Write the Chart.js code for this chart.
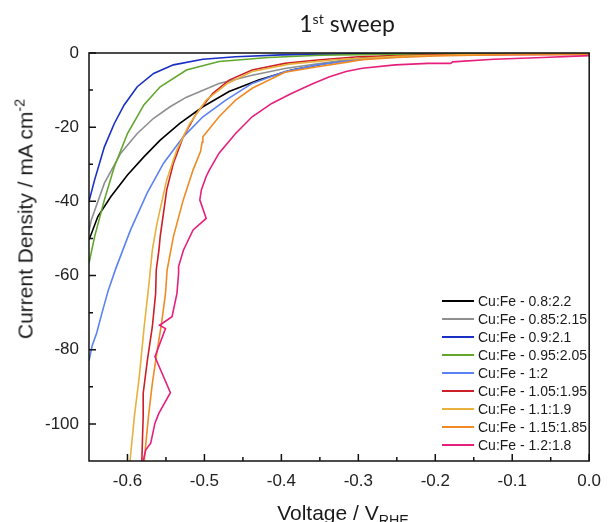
<!DOCTYPE html>
<html>
<head>
<meta charset="utf-8">
<script src="https://cdn.jsdelivr.net/npm/chart.js@4.4.1/dist/chart.umd.min.js"></script>
<style>
  html, body { margin: 0; padding: 0; background: #fff; overflow: hidden; }
  #wrap { position: relative; width: 611px; height: 522px; }
  .txt { position: absolute; white-space: nowrap; color: #1a1a1a; }
  #title { left: 347px; top: 12px; transform: translateX(-50%); font: 23px Lato, sans-serif; line-height: 23px; }
  #title sup { font-size: 0.62em; vertical-align: 8px; line-height: 0; }
  #xtitle { left: 343px; top: 502px; transform: translateX(-50%); font: 21px "Liberation Sans", Arial, sans-serif; line-height: 21px; }
  #xtitle sub { font-size: 0.68em; vertical-align: -5px; line-height: 0; }
  #ytitle { left: 25px; top: 219px; transform: translate(-50%, -50%) rotate(-90deg); font: 21px "Liberation Sans", Arial, sans-serif; line-height: 21px; }
  #ytitle sup { font-size: 0.68em; vertical-align: 8px; line-height: 0; }
  #legend { position: absolute; left: 442px; top: 292px; font: 14px "Liberation Sans", Arial, sans-serif; color: #1a1a1a; }
  #legend .row { height: 18px; line-height: 18px; display: flex; align-items: center; white-space: nowrap; }
  #legend .swatch { width: 32px; height: 2px; margin-right: 4px; }
</style>
</head>
<body>
<div id="wrap">
  <canvas id="ivChart"></canvas>
  <div id="title" class="txt">1<sup>st</sup> sweep</div>
  <div id="xtitle" class="txt">Voltage / V<sub>RHE</sub></div>
  <div id="ytitle" class="txt">Current Density / mA cm<sup>-2</sup></div>
  <div id="legend"></div>
</div>
<script>
// series labels
const labels = [
  'Cu:Fe - 0.8:2.2', 'Cu:Fe - 0.85:2.15', 'Cu:Fe - 0.9:2.1', 'Cu:Fe - 0.95:2.05', 'Cu:Fe - 1:2',
  'Cu:Fe - 1.05:1.95', 'Cu:Fe - 1.1:1.9', 'Cu:Fe - 1.15:1.85', 'Cu:Fe - 1.2:1.8'
];
const colors = ['#000000', '#8f8f8f', '#1a2fc4', '#62a62c', '#5b82f2', '#cc1f28', '#e8b03c', '#f08a24', '#e5207c'];

// [voltage V_RHE, current density mA cm-2]
const cu08 = [[-0.65,-50.4],[-0.6385,-44.1],[-0.6215,-38.7],[-0.6,-32.9],[-0.5787,-28.0],[-0.5575,-23.5],[-0.532,-19.0],[-0.502,-14.5],[-0.468,-10.4],[-0.4295,-7.3],[-0.3868,-4.6],[-0.344,-2.9],[-0.319,-2.0],[-0.29,-1.2],[-0.25,-0.7],[-0.2,-0.4],[-0.1,-0.2],[0,-0.1]];
const cu085 = [[-0.65,-48],[-0.647,-45],[-0.63,-35.1],[-0.6087,-27.0],[-0.5873,-21.7],[-0.566,-17.6],[-0.5447,-14.5],[-0.5233,-11.9],[-0.481,-8.2],[-0.438,-6.0],[-0.3954,-4.2],[-0.3527,-2.9],[-0.3186,-2.0],[-0.28,-1.2],[-0.2,-0.5],[-0.1,-0.2],[0,-0.1]];
const cu09 = [[-0.65,-40],[-0.6427,-34.2],[-0.63,-25.3],[-0.6171,-19.0],[-0.6043,-14.0],[-0.5873,-9.1],[-0.566,-5.5],[-0.5403,-3.2],[-0.502,-1.7],[-0.4593,-1.0],[-0.4,-0.5],[-0.3,-0.2],[0,-0.1]];
const cu095 = [[-0.65,-56.7],[-0.6427,-49.5],[-0.63,-39.6],[-0.617,-30.6],[-0.6,-21.7],[-0.5787,-14.0],[-0.5575,-9.1],[-0.5233,-4.6],[-0.481,-2.3],[-0.417,-1.2],[-0.35,-0.6],[-0.25,-0.3],[0,-0.1]];
const cu1 = [[-0.65,-83],[-0.646,-79],[-0.64,-75.5],[-0.633,-70],[-0.625,-64],[-0.615,-58],[-0.596,-47.7],[-0.5745,-37.8],[-0.5531,-29.7],[-0.5275,-22.6],[-0.502,-17.2],[-0.4722,-12.7],[-0.438,-8.2],[-0.3954,-5.0],[-0.3527,-3.2],[-0.3186,-2.3],[-0.28,-1.4],[-0.2,-0.6],[-0.1,-0.3],[0,-0.1]];
const cu105 = [[-0.5813,-110],[-0.5805,-104],[-0.5796,-98.1],[-0.5796,-91.8],[-0.5741,-82.8],[-0.5677,-73.8],[-0.5634,-64.8],[-0.5626,-58.5],[-0.5591,-53.1],[-0.5575,-49.5],[-0.549,-36.9],[-0.5403,-29.7],[-0.5275,-22.6],[-0.5105,-16.3],[-0.489,-10.9],[-0.468,-7.3],[-0.438,-4.6],[-0.3954,-2.8],[-0.353,-1.9],[-0.3,-1.0],[-0.2,-0.5],[0,-0.4]];
const cu11 = [[-0.5967,-110],[-0.5911,-98.1],[-0.5847,-87.3],[-0.5783,-73.8],[-0.572,-62.1],[-0.5677,-53.1],[-0.5617,-46],[-0.549,-34.2],[-0.536,-26.2],[-0.519,-19.0],[-0.4977,-12.7],[-0.47,-8.2],[-0.438,-5.0],[-0.39,-3.0],[-0.33,-1.8],[-0.25,-0.9],[-0.15,-0.4],[0,-0.2]];
const cu115 = [[-0.5783,-110],[-0.5728,-98.1],[-0.5677,-89.1],[-0.5613,-80.1],[-0.5557,-72.9],[-0.5506,-64.8],[-0.5485,-58.5],[-0.5403,-49.5],[-0.5275,-39.6],[-0.5147,-31.5],[-0.505,-26.5],[-0.503,-24],[-0.502,-22.6],[-0.481,-17.2],[-0.4595,-12.7],[-0.438,-9.5],[-0.3954,-5.2],[-0.3527,-3.7],[-0.3186,-2.6],[-0.295,-1.8],[-0.25,-1.2],[-0.2,-0.8],[-0.1,-0.4],[0,-0.3]];
const cu12 = [[-0.5796,-110],[-0.5762,-107],[-0.5698,-105.2],[-0.5643,-99.8],[-0.5591,-97.1],[-0.5442,-91.6],[-0.5643,-81.9],[-0.5506,-74.3],[-0.5583,-73.4],[-0.5421,-71.1],[-0.5357,-64.8],[-0.5336,-59.4],[-0.5336,-57.6],[-0.5272,-53.1],[-0.5147,-47.7],[-0.4977,-44.6],[-0.506,-39.6],[-0.504,-36.9],[-0.4977,-33.3],[-0.4935,-31.5],[-0.481,-27.0],[-0.4595,-21.7],[-0.438,-17.2],[-0.4125,-13.6],[-0.387,-10.9],[-0.3586,-8.2],[-0.3374,-6.4],[-0.316,-5.0],[-0.2947,-4.1],[-0.252,-3.2],[-0.2094,-2.8],[-0.18,-2.8],[-0.1775,-2.4],[-0.124,-1.7],[-0.06,-1.2],[0,-0.7]];

const series = [cu08, cu085, cu09, cu095, cu1, cu105, cu11, cu115, cu12];

// axis ticks
const xTicks = [-0.6, -0.5, -0.4, -0.3, -0.2, -0.1, 0.0];
const xMinor = [-0.55, -0.45, -0.35, -0.25, -0.15, -0.05];
const yTicks = [0, -20, -40, -60, -80, -100];
const yMinor = [-10, -30, -50, -70, -90];

// frame box + inward ticks like the origin plot
const frameTicks = {
  id: 'frameTicks',
  afterDatasetsDraw(chart) {
    const { ctx, chartArea: a, scales } = chart;
    const x = scales.x, y = scales.y;
    ctx.save();
    ctx.strokeStyle = '#111';
    ctx.lineWidth = 1.5;
    ctx.strokeRect(a.left, a.top, a.right - a.left, a.bottom - a.top);
    ctx.beginPath();
    xTicks.forEach(v => { const p = x.getPixelForValue(v); ctx.moveTo(p, a.bottom); ctx.lineTo(p, a.bottom - 7); });
    xMinor.forEach(v => { const p = x.getPixelForValue(v); ctx.moveTo(p, a.bottom); ctx.lineTo(p, a.bottom - 4); });
    yTicks.forEach(v => { const p = y.getPixelForValue(v); ctx.moveTo(a.left, p); ctx.lineTo(a.left + 7, p); });
    yMinor.forEach(v => { const p = y.getPixelForValue(v); ctx.moveTo(a.left, p); ctx.lineTo(a.left + 4, p); });
    ctx.stroke();
    ctx.restore();
  }
};

const tickFont = { family: '"Liberation Sans", Arial, sans-serif', size: 17 };

const chartConfig = {
  type: 'scatter',
  data: {
    datasets: series.map((pts, i) => ({
      label: labels[i],
      data: pts.map(p => ({ x: p[0], y: p[1] })),
      showLine: true,
      borderColor: colors[i],
      backgroundColor: colors[i],
      borderWidth: 1.6,
      pointRadius: 0,
      tension: 0,
      order: 8 - i
    }))
  },
  options: {
    responsive: true,
    maintainAspectRatio: false,
    animation: false,
    layout: { padding: { top: 53, right: 14, left: 0, bottom: 0 } },
    plugins: {
      legend: { display: false },
      tooltip: { enabled: false }
    },
    scales: {
      x: {
        type: 'linear',
        min: -0.65,
        max: 0,
        afterBuildTicks: s => { s.ticks = xTicks.map(v => ({ value: v })); },
        afterFit: s => { s.height = 61; },
        grid: { display: false, drawTicks: false },
        border: { display: false },
        ticks: { font: tickFont, color: '#222', padding: 10, maxRotation: 0, autoSkip: false, callback: v => v.toFixed(1) }
      },
      y: {
        type: 'linear',
        min: -110,
        max: 0,
        afterBuildTicks: s => { s.ticks = yTicks.map(v => ({ value: v })); },
        afterFit: s => { s.width = 89; },
        grid: { display: false, drawTicks: false },
        border: { display: false },
        ticks: { font: tickFont, color: '#222', padding: 10, autoSkip: false, callback: v => String(v) }
      }
    }
  },
  plugins: [frameTicks]
};

const ctx = document.getElementById('ivChart').getContext('2d');
new Chart(ctx, chartConfig);

// legend inside the plot, bottom right
const legend = document.getElementById('legend');
labels.forEach((name, i) => {
  const row = document.createElement('div');
  row.className = 'row';
  const sw = document.createElement('span');
  sw.className = 'swatch';
  sw.style.background = colors[i];
  const t = document.createElement('span');
  t.textContent = name;
  row.appendChild(sw);
  row.appendChild(t);
  legend.appendChild(row);
});
</script>
</body>
</html>
